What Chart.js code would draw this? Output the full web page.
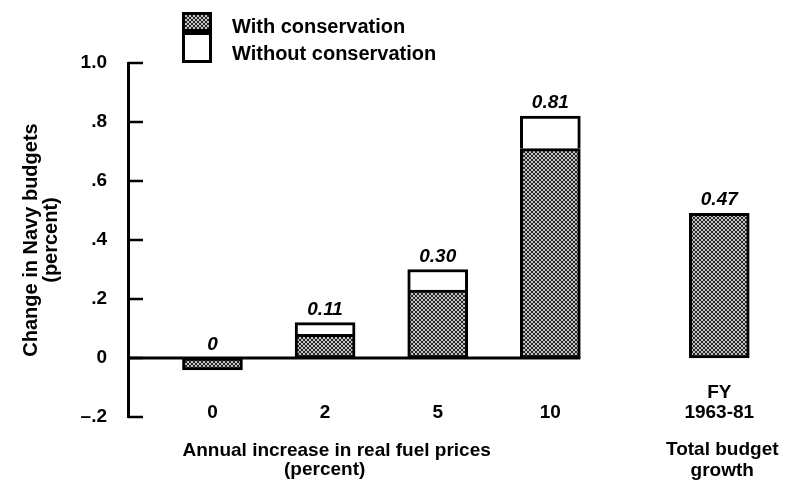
<!DOCTYPE html>
<html>
<head>
<meta charset="utf-8">
<script src="https://cdn.jsdelivr.net/npm/chart.js@4.4.1/dist/chart.umd.min.js"></script>
<style>
  html, body { margin: 0; padding: 0; background: #fff; }
  canvas { display: block; }
</style>
</head>
<body>
<canvas id="navy_chart" width="791" height="496"></canvas>
<script>
// values
const price_labels = ['0', '2', '5', '10']
const growth_label = ['FY', '1963-81']
const with_conservation = [-0.04, 0.08, 0.23, 0.71]
const without_conservation = [0, 0.12, 0.30, 0.82]   // bar totals
const budget_growth = 0.49
const value_labels = ['0', '0.11', '0.30', '0.81']
const growth_value_label = '0.47'
const y_ticks = [-0.2, 0, 0.2, 0.4, 0.6, 0.8, 1.0]
const y_tick_labels = ['\u2013.2', '0', '.2', '.4', '.6', '.8', '1.0']

const FONT = "'Liberation Sans', Arial, Helvetica, sans-serif"

// category slots: a blank slot before, half-step gaps between bars, wider gap before FY
const x_labels = ['']
const bar_slots = []
price_labels.forEach(l => { bar_slots.push(x_labels.length); x_labels.push(l); x_labels.push('') })
x_labels.push('')
bar_slots.push(x_labels.length)
x_labels.push(growth_label)

const with_data = x_labels.map(() => null)
const without_data = x_labels.map(() => null)
const totals = without_conservation.concat([budget_growth])
const labels_on_bars = value_labels.concat([growth_value_label])
with_conservation.concat([budget_growth]).forEach((v, i) => {
    with_data[bar_slots[i]] = v
    const t = totals[i]
    if (t > 0 && t > v) without_data[bar_slots[i]] = +(t - Math.max(v, 0)).toFixed(3)
})

// dark stippled fill like the print
const make_stipple = () => {
    const c = document.createElement('canvas')
    c.width = 4; c.height = 4
    const g = c.getContext('2d')
    g.fillStyle = '#c4c4c4'
    g.fillRect(0, 0, 4, 4)
    g.fillStyle = '#262626'
    ;[[0,0],[1,1],[2,2],[3,3],[3,0],[2,1],[1,2],[0,3]].forEach(p => g.fillRect(p[0], p[1], 1, 1))
    return g.createPattern(c, 'repeat')
}
const stipple = make_stipple()

const extras = {
    id: 'extras',
    afterDatasetsDraw(chart) {
        const {ctx, chartArea, scales} = chart
        const meta = chart.getDatasetMeta(0)
        const y0 = scales.y.getPixelForValue(0)
        ctx.save()
        ctx.strokeStyle = '#000'
        // zero line, from the axis to the right edge of the last price bar
        const last = meta.data[bar_slots[price_labels.length - 1]]
        ctx.lineWidth = 3
        ctx.beginPath()
        ctx.moveTo(chartArea.left, y0)
        ctx.lineTo(last.x + last.width / 2, y0)
        ctx.stroke()
        // inward tick marks
        ctx.lineWidth = 2.5
        y_ticks.forEach(v => {
            const y = scales.y.getPixelForValue(v)
            ctx.beginPath()
            ctx.moveTo(chartArea.left, y)
            ctx.lineTo(chartArea.left + 15, y)
            ctx.stroke()
        })
        // values above bars
        ctx.fillStyle = '#000'
        ctx.font = `italic bold 19px ${FONT}`
        ctx.textAlign = 'center'
        ctx.textBaseline = 'alphabetic'
        bar_slots.forEach((s, i) => {
            const bar = meta.data[s]
            const y = scales.y.getPixelForValue(Math.max(totals[i], 0))
            ctx.fillText(labels_on_bars[i], bar.x, y - 8)
        })
        // axis group titles
        ctx.font = `bold 19px ${FONT}`
        ctx.textBaseline = 'middle'
        const first = meta.data[bar_slots[0]]
        const left = first.x - first.width / 2
        const title1 = 'Annual increase in real fuel prices'
        const w1 = ctx.measureText(title1).width
        ctx.textAlign = 'left'
        ctx.fillText(title1, left, 451)
        ctx.textAlign = 'center'
        ctx.fillText('(percent)', left + w1 / 2 - 12, 470)
        const fy = meta.data[bar_slots[bar_slots.length - 1]]
        ctx.fillText('Total budget', fy.x + 3, 450)
        ctx.fillText('growth', fy.x + 3, 471)
        // legend
        const sets = chart.data.datasets
        const boxes = [[182, 12, 30, 20], [182, 32, 30, 31]]
        ctx.lineWidth = 3
        sets.forEach((d, i) => {
            const b = boxes[i]
            ctx.fillStyle = d.backgroundColor
            ctx.fillRect(b[0], b[1], b[2], b[3])
            ctx.strokeRect(b[0] + 1.5, b[1] + 1.5, b[2] - 3, b[3] - 3)
        })
        ctx.fillStyle = '#000'
        ctx.font = `bold 20px ${FONT}`
        ctx.textAlign = 'left'
        ctx.textBaseline = 'alphabetic'
        ctx.fillText(sets[0].label, 232, 33)
        ctx.fillText(sets[1].label, 232, 60)
        ctx.restore()
    }
}

const config = {
    type: 'bar',
    data: {
        labels: x_labels,
        datasets: [
            {
                label: 'With conservation',
                data: with_data,
                backgroundColor: stipple,
                borderColor: '#000',
                borderWidth: 3,
                borderSkipped: false,
                barThickness: 60,
                clip: false,
            },
            {
                label: 'Without conservation',
                data: without_data,
                backgroundColor: '#fff',
                borderColor: '#000',
                borderWidth: 3,
                borderSkipped: 'bottom',
                barThickness: 60,
                clip: false,
            }
        ]
    },
    options: {
        responsive: false,
        animation: false,
        devicePixelRatio: 1,
        layout: {
            padding: {top: 63, right: 41, bottom: 79, left: 0}
        },
        plugins: {
            legend: {display: false},
            tooltip: {enabled: false}
        },
        scales: {
            x: {
                axis: 'x',
                stacked: true,
                position: {y: 0},
                grid: {display: false, drawTicks: false},
                border: {display: false},
                ticks: {
                    autoSkip: false,
                    maxRotation: 0,
                    padding: 35,
                    crossAlign: 'far',
                    color: '#000',
                    font: {family: FONT, size: 19, weight: 'bold', lineHeight: 1.05}
                }
            },
            y: {
                stacked: true,
                min: -0.2,
                max: 1.0,
                afterBuildTicks: (scale) => {
                    scale.ticks = y_ticks.map(v => ({value: v}))
                },
                afterFit: (scale) => { scale.width = 128 },
                grid: {display: false},
                border: {display: true, color: '#000', width: 3},
                ticks: {
                    padding: 13,
                    color: '#000',
                    font: {family: FONT, size: 19, weight: 'bold'},
                    callback: (value) => {
                        const i = y_ticks.findIndex(t => Math.abs(t - value) < 1e-6)
                        return i >= 0 ? y_tick_labels[i] : ''
                    }
                },
                title: {
                    display: true,
                    text: ['Change in Navy budgets', '(percent)'],
                    color: '#000',
                    padding: {top: 21, bottom: 0},
                    font: {family: FONT, size: 20, weight: 'bold', lineHeight: 1.0}
                }
            }
        }
    },
    plugins: [extras]
}

new Chart(document.getElementById('navy_chart'), config)
</script>
</body>
</html>
